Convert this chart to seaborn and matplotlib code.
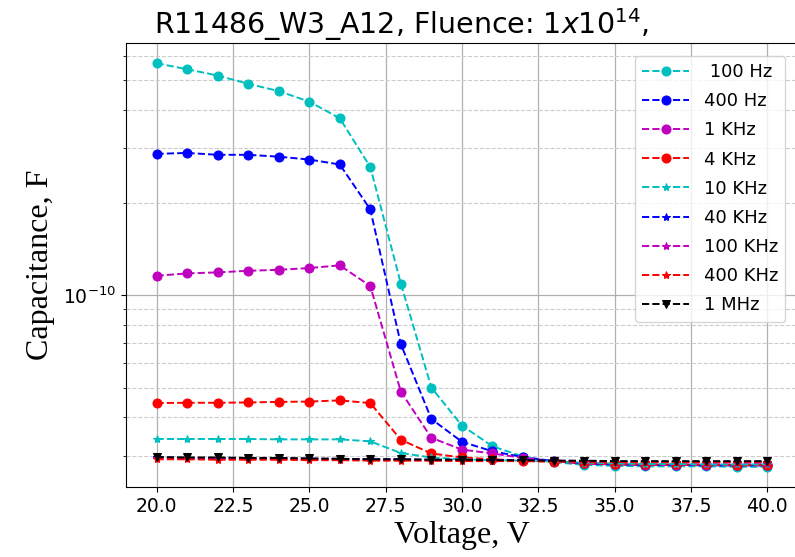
import matplotlib
matplotlib.use("Agg")
import matplotlib.pyplot as plt
import matplotlib.ticker as mticker
import seaborn as sns
import numpy as np

# Voltage points (V)
voltage = list(range(20, 41))

# Capacitance in units of 1e-11 F
c_100hz = [56.8, 54.3, 51.8, 48.7, 46.1, 42.6, 37.6, 26.1, 10.9, 5.00, 3.76,
           3.22, 2.98, 2.86, 2.80, 2.78, 2.77, 2.77, 2.77, 2.76, 2.76]
c_400hz = [28.8, 29.0, 28.6, 28.6, 28.2, 27.6, 26.6, 19.0, 6.92, 3.95, 3.33,
           3.10, 2.97, 2.88, 2.83, 2.81, 2.80, 2.80, 2.79, 2.79, 2.79]
c_1khz = [11.55, 11.76, 11.85, 11.99, 12.08, 12.24, 12.49, 10.7, 4.85, 3.43, 3.14,
          3.05, 2.95, 2.88, 2.83, 2.81, 2.80, 2.80, 2.80, 2.79, 2.79]
c_4khz = [4.45, 4.46, 4.46, 4.47, 4.49, 4.50, 4.54, 4.45, 3.38, 3.05, 2.96,
          2.92, 2.89, 2.87, 2.84, 2.82, 2.81, 2.81, 2.81, 2.80, 2.80]
c_10khz = [3.40, 3.40, 3.40, 3.40, 3.39, 3.39, 3.39, 3.34, 3.06, 2.96, 2.92,
           2.90, 2.89, 2.87, 2.85, 2.83, 2.82, 2.82, 2.81, 2.81, 2.81]
c_40khz = [2.96, 2.95, 2.95, 2.94, 2.94, 2.93, 2.93, 2.92, 2.92, 2.91, 2.91,
           2.90, 2.90, 2.89, 2.88, 2.87, 2.87, 2.86, 2.86, 2.86, 2.85]
c_100khz = [2.95, 2.94, 2.94, 2.93, 2.93, 2.92, 2.92, 2.91, 2.91, 2.90, 2.90,
            2.89, 2.89, 2.88, 2.87, 2.86, 2.86, 2.86, 2.85, 2.85, 2.85]
c_400khz = [2.92, 2.92, 2.91, 2.91, 2.91, 2.90, 2.90, 2.89, 2.89, 2.89, 2.88,
            2.88, 2.88, 2.87, 2.87, 2.86, 2.86, 2.86, 2.86, 2.86, 2.86]
c_1mhz = [2.97, 2.96, 2.96, 2.95, 2.95, 2.94, 2.93, 2.92, 2.92, 2.91, 2.91,
          2.90, 2.90, 2.89, 2.89, 2.88, 2.88, 2.88, 2.88, 2.88, 2.88]

labels = [" 100 Hz", "400 Hz", "1 KHz", "4 KHz", "10 KHz", "40 KHz",
          "100 KHz", "400 KHz", "1 MHz"]
series = [c_100hz, c_400hz, c_1khz, c_4khz, c_10khz, c_40khz,
          c_100khz, c_400khz, c_1mhz]
colors = ["c", "b", "m", "r", "c", "b", "m", "r", "k"]
markers = ["o", "o", "o", "o", "*", "*", "*", "*", "v"]

fig = plt.figure(figsize=(7.95, 5.57), dpi=100)
ax = fig.add_axes([0.1585, 0.1257, 0.845, 0.797])

x = np.array(voltage)
for vals, lab, col, mk in zip(series, labels, colors, markers):
    y = np.array(vals) * 1e-11
    ms = 6.5 if mk == "o" else 6
    sns.lineplot(x=x, y=y, ax=ax, color=col, marker=mk, markersize=ms,
                 markeredgecolor=col, markerfacecolor=col,
                 linestyle="--", linewidth=1.4, label=lab)

ax.set_yscale("log")
ax.yaxis.set_minor_formatter(mticker.NullFormatter())
ax.grid(True, which="major", color="#b0b0b0", linewidth=0.9)
ax.grid(True, which="minor", axis="y", color="#cccccc", linestyle="--",
        linewidth=0.8)
ax.set_axisbelow(True)

ax.tick_params(axis="both", labelsize=13.5)
ax.set_xlabel("Voltage, V", family="Liberation Serif", fontsize=23)
ax.set_ylabel("Capacitance, F", family="Liberation Serif", fontsize=23,
              labelpad=6)
ax.set_title("R11486_W3_A12, Fluence: $1x10^{14}$,", fontsize=20.5, x=0.41)

ax.legend(loc="upper right", fontsize=13, labelspacing=0.62,
          handlelength=2.6, borderaxespad=0.7)

plt.savefig("out.png", dpi=100)
plt.close()
